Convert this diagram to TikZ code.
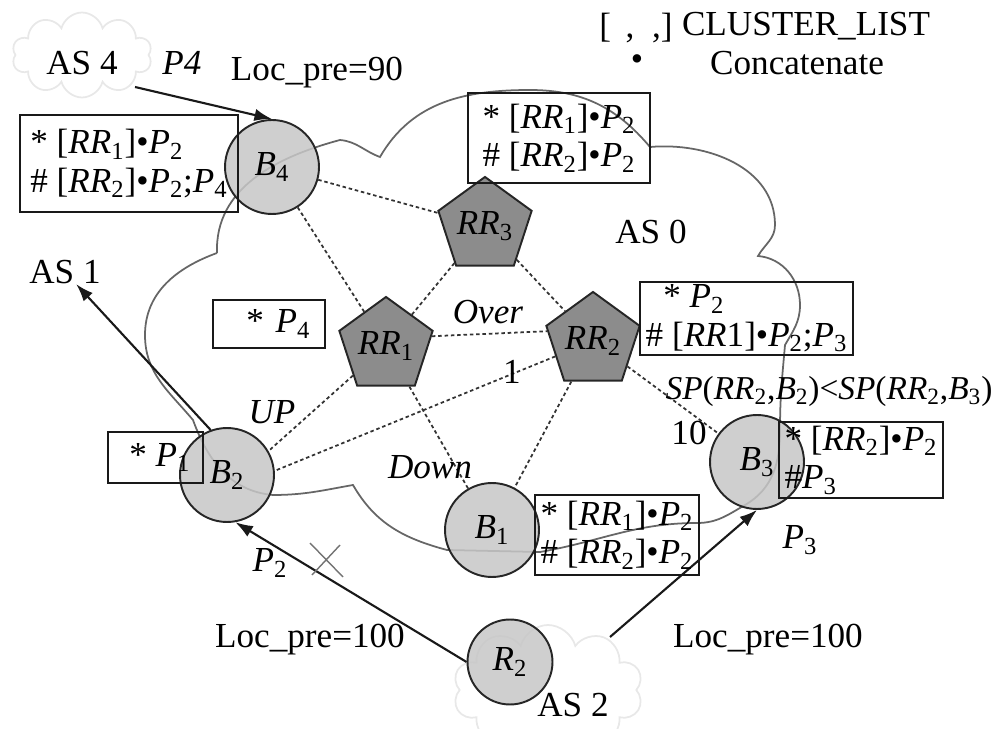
\documentclass[tikz,border=0pt]{standalone}
\usepackage{fontspec}
\setmainfont{Liberation Serif}
\usetikzlibrary{shapes.geometric,shapes.symbols,arrows.meta}
\newcommand{\vv}[2]{\textit{#1}\textsubscript{#2}}
\begin{document}
\begin{tikzpicture}[x=0.02cm,y=-0.02cm,
  every node/.style={font=\fontsize{20}{22}\selectfont},
  txt/.style={inner sep=0pt},
  rtr/.style={circle, draw=black!85, line width=1.1pt, fill=black!22, fill opacity=0.85, text opacity=1, minimum size=1.88cm, inner sep=0pt},
  rr/.style={regular polygon, regular polygon sides=5, draw=black!85, line width=1.1pt, fill=black!45, minimum size=1.86cm, inner sep=0pt},
  bx/.style={draw=black!90, line width=1.1pt, inner xsep=3pt, inner ysep=0pt, align=left},
  dotl/.style={black!80, line width=1pt, dash pattern=on 2pt off 1.6pt},
  arr/.style={black!90, line width=1.2pt, -{Latex[length=10pt,width=7pt]}},
  cloudl/.style={black!60, line width=1pt},
  faint/.style={cloud, cloud puffs=10, draw=black!9, line width=1pt, aspect=1.6}
]
\useasboundingbox (0,0) rectangle (998,729);

% faint outer AS clouds
\node[faint, minimum width=2.8cm, minimum height=1.7cm] (as4c) at (82,55) {};
\node[faint, minimum width=3.8cm, minimum height=2.6cm] (as2c) at (548,690) {};

% AS 0 cloud outline
\draw[cloudl] (217,253) to[out=92,in=195] (340,140) to[out=-5,in=160] (380,157)
  to[out=60,in=180] (530,90) to[out=0,in=130] (650,147)
  to[out=5,in=90] (775,225) to[out=-90,in=60] (758,256)
  to[out=-5,in=90] (800,305) to[out=-90,in=60] (785,345)
  to[out=-95,in=90] (780,430) to[out=-90,in=30] (745,505)
  to[out=210,in=0] (697,523) to[out=180,in=10] (540,552) -- (447,550)
  to[out=165,in=-60] (353,485) to[out=190,in=0] (273,495)
  to[out=175,in=-70] (193,420) to[out=130,in=-90] (145,335)
  to[out=90,in=200] (217,253);

% routers
\node[rtr] (B4) at (272,167) {\vv{B}{4}};
\node[rtr] (B2) at (227,475) {\vv{B}{2}};
\node[rtr] (B1) at (492,530) {\vv{B}{1}};
\node[rtr] (B3) at (757,462) {\vv{B}{3}};
\node[rtr, minimum size=1.7cm] (R2) at (510,662) {\vv{R}{2}};

% route reflectors
\node[rr] (RR3) at (485,226) {\vv{RR}{3}};
\node[rr] (RR1) at (386,346) {\vv{RR}{1}};
\node[rr] (RR2) at (593,341) {\vv{RR}{2}};

% iBGP sessions
\draw[dotl] (B4) -- (RR3);
\draw[dotl] (B4) -- (RR1);
\draw[dotl] (RR3) -- (RR1);
\draw[dotl] (RR3) -- (RR2);
\draw[dotl] (RR1.12) -- (RR2.168);
\draw[dotl] (RR1) -- (B2.30);
\draw[dotl] (RR2) -- (B2.5);
\draw[dotl] (RR1) -- (B1);
\draw[dotl] (RR2) -- (B1);
\draw[dotl] (RR2) -- (B3);

% eBGP arrows
\node[txt] (as1) at (65,272) {AS 1};
\draw[arr] (B2.110) -- (as1);
\coordinate (a4) at (135,87);
\draw[arr] (a4) -- (B4.north);
\draw[arr] (R2.west) -- (B2.-80);
\coordinate (r2out) at (610,637);
\draw[arr] (r2out) -- (B3.south);

% withdrawn mark
\draw[black!55, line width=0.8pt] (310,543) -- (343,577) (340,545) -- (312,575);

% boxes
\node[bx, minimum width=124.1pt, minimum height=55.2pt] (bB4) at (129,163.5)
  {* [\vv{RR}{1}]•\vv{P}{2}\\ \# [\vv{RR}{2}]•\vv{P}{2};\vv{P}{4}};
\node[bx, minimum width=103.6pt, minimum height=51.2pt] (bTop) at (559,138)
  {* [\vv{RR}{1}]•\vv{P}{2}\\ \# [\vv{RR}{2}]•\vv{P}{2}};
\node[bx, minimum width=63.7pt, minimum height=27.3pt, inner xsep=8pt, align=right, text width=47pt] (bP4) at (269,324)
  {* \vv{P}{4}};
\node[bx, minimum width=54.1pt, minimum height=29pt] (bP1) at (155.5,457.5)
  {\ * \vv{P}{1}};
\node[bx, minimum width=117.8pt, minimum height=41.5pt] (bRR2) at (746.5,318.5)
  {\ \ * \vv{P}{2}\\ \# [\textit{RR}1]•\vv{P}{2};\vv{P}{3}};
\node[bx, minimum width=91pt, minimum height=43.2pt] (bB3) at (861,460)
  {* [\vv{RR}{2}]•\vv{P}{2}\\ \#\vv{P}{3}};
\node[bx, minimum width=91pt, minimum height=45.5pt] (bB1) at (617,535)
  {* [\vv{RR}{1}]•\vv{P}{2}\\ \# [\vv{RR}{2}]•\vv{P}{2}};

% labels
\node[txt] (as4) at (82,63) {AS 4};
\node[txt] (p4) at (182,63) {\textit{P4}};
\node[txt] (loc90) at (317,73) {Loc\_pre=90};
\node[txt] (lg1) at (636,28) {[\,\ ,\ \ ,]};
\node[txt] (lg2) at (806,26) {CLUSTER\_LIST};
\node[txt] (lg3) at (637,63) {•};
\node[txt] (lg4) at (797,63) {Concatenate};
\node[txt] (as0) at (651,232) {AS 0};
\node[txt] (over) at (488,312) {\textit{Over}};
\node[txt] (down) at (430,467) {\textit{Down}};
\node[txt] (up) at (272,412) {\textit{UP}};
\node[txt] (c1) at (512,372) {1};
\node[txt] (c10) at (689,433) {10};
\node[txt, font=\fontsize{19}{21}\selectfont] (sp) at (829,391) {\textit{SP}(\vv{RR}{2},\vv{B}{2})<\textit{SP}(\vv{RR}{2},\vv{B}{3})};
\node[txt] (p2) at (270,563) {\vv{P}{2}};
\node[txt] (p3) at (800,540) {\vv{P}{3}};
\node[txt] (loc100a) at (310,640) {Loc\_pre=100};
\node[txt] (loc100b) at (768,640) {Loc\_pre=100};
\node[txt] (as2) at (573,705) {AS 2};
\end{tikzpicture}
\end{document}
